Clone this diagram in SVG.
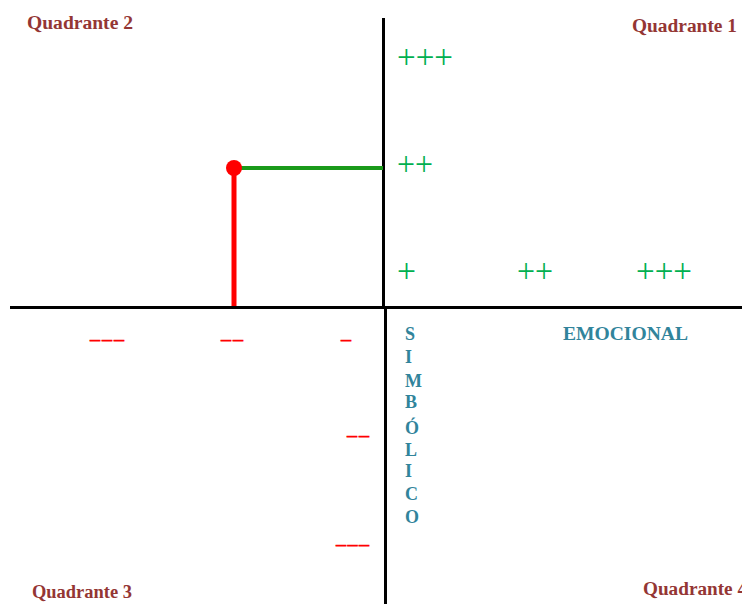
<svg xmlns="http://www.w3.org/2000/svg" width="742" height="604" viewBox="0 0 742 604">
<style>
.q{font-family:"Liberation Serif",serif;font-weight:bold;font-size:18px;fill:#943634}
.lbl{font-family:"Liberation Serif",serif;font-weight:bold;font-size:18px;fill:#31849B}
.p{font-family:"Liberation Serif",serif;font-size:34px;fill:#00B050}
.m{font-family:"Liberation Serif",serif;font-size:20px;fill:#FF0000;stroke:#FF0000;stroke-width:0.6}
.axis{stroke:#000;stroke-width:3;fill:none}
</style>
<rect width="742" height="604" fill="#fff"/>
<g id="axes">
<line class="axis" x1="10" y1="307.5" x2="742" y2="307.5"/>
<line class="axis" x1="383.5" y1="18" x2="383.5" y2="308"/>
<line class="axis" x1="385.5" y1="308" x2="385.5" y2="604"/>
</g>
<g id="quadrants">
<text class="q" x="27" y="29" textLength="106" lengthAdjust="spacingAndGlyphs">Quadrante 2</text>
<text class="q" x="632" y="32" textLength="105" lengthAdjust="spacingAndGlyphs">Quadrante 1</text>
<text class="q" x="32" y="598" textLength="100" lengthAdjust="spacingAndGlyphs">Quadrante 3</text>
<text class="q" x="643" y="595" textLength="104" lengthAdjust="spacingAndGlyphs">Quadrante 4</text>
</g>
<g id="plus-marks">
<text class="p" x="397" y="68" textLength="56" lengthAdjust="spacingAndGlyphs">+++</text>
<text class="p" x="397" y="175" textLength="36" lengthAdjust="spacingAndGlyphs">++</text>
<text class="p" x="397" y="282" textLength="19" lengthAdjust="spacingAndGlyphs">+</text>
<text class="p" x="517" y="282" textLength="36" lengthAdjust="spacingAndGlyphs">++</text>
<text class="p" x="636" y="282" textLength="56" lengthAdjust="spacingAndGlyphs">+++</text>
</g>
<g id="minus-marks">
<text class="m" x="90" y="346" textLength="34" lengthAdjust="spacing">–––</text>
<text class="m" x="221" y="346" textLength="22" lengthAdjust="spacing">––</text>
<text class="m" x="341" y="346" textLength="11" lengthAdjust="spacing">–</text>
<text class="m" x="347" y="442" textLength="22" lengthAdjust="spacing">––</text>
<text class="m" x="336" y="551" textLength="33" lengthAdjust="spacing">–––</text>
</g>
<g id="emocional">
<text class="lbl" x="563" y="340" textLength="125" lengthAdjust="spacingAndGlyphs">EMOCIONAL</text>
</g>
<g id="simbolico" class="lbl">
<text x="405" y="340">S</text>
<text x="405" y="363">I</text>
<text x="405" y="387">M</text>
<text x="405" y="408">B</text>
<text x="405" y="434">Ó</text>
<text x="405" y="456">L</text>
<text x="405" y="477">I</text>
<text x="405" y="500">C</text>
<text x="405" y="523">O</text>
</g>
<g id="point">
<line x1="234" y1="168" x2="383" y2="168" stroke="#1A9A1A" stroke-width="4"/>
<line x1="234" y1="168" x2="234" y2="306" stroke="#FF0000" stroke-width="5"/>
<circle cx="234" cy="168" r="8" fill="#FF0000"/>
</g>
</svg>
